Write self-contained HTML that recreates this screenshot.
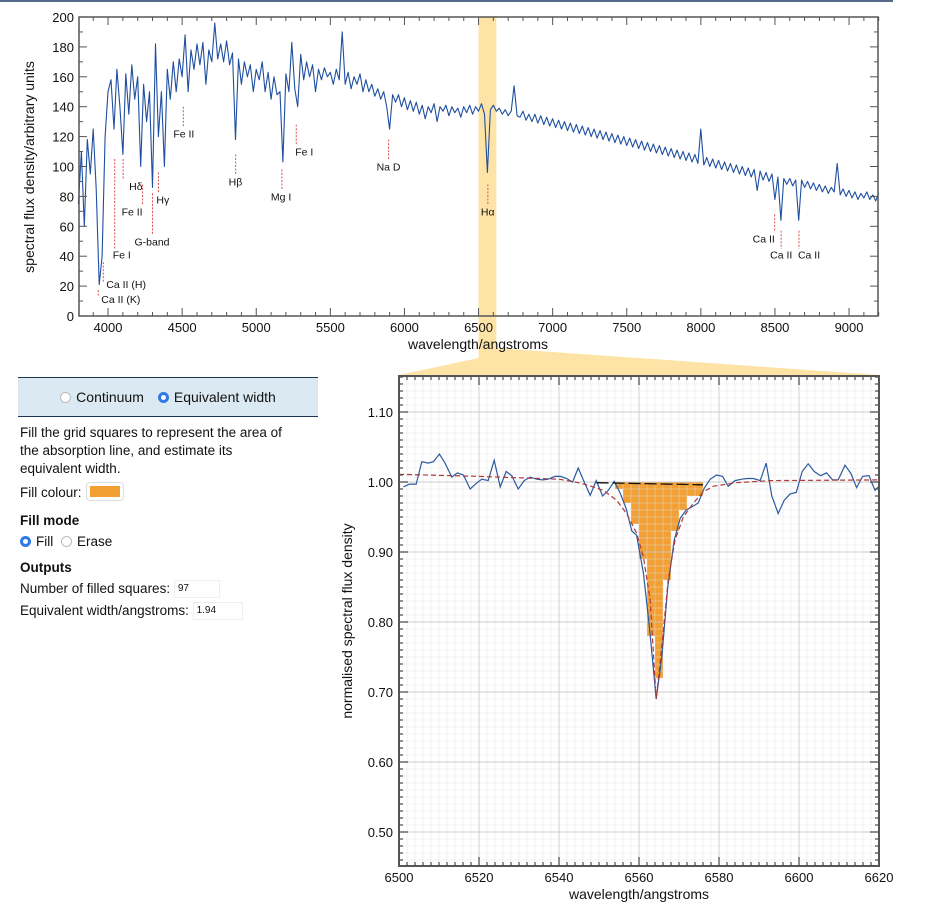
<!DOCTYPE html>
<html><head><meta charset="utf-8">
<style>
body{margin:0;background:#fff;font-family:"Liberation Sans",Arial,sans-serif;}
#wrap{position:relative;width:950px;height:911px;overflow:hidden;}
svg text{font-family:"Liberation Sans",Arial,sans-serif;}
#panel{position:absolute;left:18px;top:377px;width:300px;height:260px;font-size:13.5px;color:#111;}
.hdr{height:38px;background:#dbeaf2;border-top:1.5px solid #1d3554;border-bottom:1.5px solid #1d3554;display:flex;align-items:center;justify-content:center;font-size:14px;}
.radio{display:inline-block;width:11px;height:11px;border-radius:50%;border:1px solid #bbb;background:#fff;vertical-align:-1px;margin-right:5px;box-sizing:border-box;}
.radio.on{border:3.5px solid #2f7ae5;}
.p{position:absolute;left:2px;width:290px;margin:0;line-height:18px;white-space:nowrap;}
.box{display:inline-block;border:1px solid #eee;font-size:10px;line-height:12px;padding:2px 3px;vertical-align:middle;}
</style></head><body>
<div id="wrap">
<svg id="svg" width="950" height="911" style="position:absolute;left:0;top:0"></svg>
<div id="panel">
 <div class="hdr">
  <span style="margin-right:14px"><span class="radio"></span>Continuum</span>
  <span><span class="radio on"></span>Equivalent width</span>
 </div>
 <p class="p" style="top:47px">Fill the grid squares to represent the area of<br>the absorption line, and estimate its<br>equivalent width.</p>
 <p class="p" style="top:106px">Fill colour: <span style="display:inline-block;width:30px;height:11px;background:#f2a033;border:3px solid #fff;box-shadow:0 0 0 1px #ddd;border-radius:3px;vertical-align:-3px;margin-left:2px"></span></p>
 <p class="p" style="top:135px;font-weight:bold">Fill mode</p>
 <p class="p" style="top:156px"><span><span class="radio on"></span>Fill</span> <span style="margin-left:4px"><span class="radio"></span>Erase</span></p>
 <p class="p" style="top:182px;font-weight:bold">Outputs</p>
 <p class="p" style="top:203px">Number of filled squares: <span class="box" style="width:38px">97</span></p>
 <p class="p" style="top:225px">Equivalent width/angstroms: <span class="box" style="width:42px">1.94</span></p>
</div>
</div>
<script>
// ---------- TOP CHART DATA ----------
const topWlStart = 3800, topWlStep = 20;
const topFlux = [
75,110,60,118,95,125,85,21,40,120,
150,158,125,165,140,108,162,135,168,145,
160,100,155,130,150,86,182,120,150,100,
165,145,170,150,172,160,188,150,178,165,
182,168,183,155,178,170,196,172,182,170,
184,168,176,118,172,155,170,160,168,150,
165,158,170,150,163,145,160,148,150,103,
162,150,183,152,140,175,158,170,160,168,
150,165,158,166,160,163,155,165,158,190,
155,163,152,160,155,162,150,158,150,155,
147,152,145,150,140,125,148,143,148,140,
146,138,144,137,143,135,141,132,140,136,
142,130,140,137,141,134,140,136,139,133,
140,136,141,135,140,137,142,135,96,138,
141,137,139,135,138,
134,137,154,134,133,137,131,135,130,135,
129,134,128,133,127,132,126,131,125,130,
124,129,123,128,122,127,121,126,120,125,
119,124,118,123,117,122,116,121,115,120,
114,119,113,118,112,117,111,116,110,115,
109,114,108,113,107,112,106,111,105,110,
104,109,103,108,102,125,101,106,100,105,
99,104,98,103,97,102,96,101,95,100,
94,99,93,98,84,97,91,96,90,95,
78,93,64,92,88,92,87,91,64,91,
86,90,85,89,84,88,83,87,82,86,
83,102,81,85,80,84,79,83,78,82,
79,83,78,81,77,82];
const xTicksTop = [4000,4500,5000,5500,6000,6500,7000,7500,8000,8500,9000];
const yTicksTop = [0,20,40,60,80,100,120,140,160,180,200];
const lineNames = ["Ca II (K)","Ca II (H)","Fe I","Hδ","Fe II","G-band","Hγ","Fe II","Hβ","Mg I","Fe I","Na D","Hα","Ca II","Ca II","Ca II"];
const lineWl = [3934,3968,4045,4102,4233,4300,4340,4508,4861,5173,5270,5893,6563,8498,8542,8662];
const lineMarkTop = [17.4,36,105,105,88,82,96,140,108,98,128,118,88,68,57,57];
const lineMarkLen = [4.7,13.4,60,14,14,28,14,14,14,14,14,14,14,12,12,12];
const labelDy = [6,6,10,10,10,10,10,10,10,10,10,10,10,10,10,10];
// ---------- BOTTOM CHART DATA ----------
const obsWl = [6501.1,6502.6,6504.3,6505.7,6507.3,6508.6,6510.1,6511.5,6513.2,6514.6,6516.1,6517.8,6519.3,6520.7,6522.3,6523.8,6525.3,6526.8,6528.2,6529.8,6531.3,6532.8,6534.4,6535.9,6537.3,6539.0,6540.4,6541.9,6543.4,6544.8,6546.3,6547.8,6549.3,6550.9,6552.3,6553.8,6555.3,6556.8,6558.2,6559.4,6561.1,6562.6,6564.3,6565.7,6567.2,6568.8,6570.3,6571.8,6573.4,6574.8,6576.3,6577.8,6579.4,6580.9,6582.3,6584.0,6585.7,6587.1,6588.6,6590.3,6591.8,6593.2,6594.8,6596.3,6597.8,6599.3,6600.8,6602.3,6603.8,6605.4,6606.9,6608.4,6609.8,6611.5,6613.0,6614.4,6615.9,6617.5,6619.0,6619.8];
const obsFlux = [0.993,0.997,0.997,1.029,1.027,1.029,1.040,1.027,1.007,1.013,1.010,0.990,0.998,1.004,1.002,1.031,0.993,1.015,1.009,0.990,1.002,1.007,1.004,1.003,1.004,1.008,1.008,1.005,1.000,1.020,1.000,0.981,1.002,0.980,0.988,1.001,0.984,0.962,0.930,0.924,0.870,0.793,0.690,0.750,0.850,0.917,0.948,0.960,0.965,0.970,0.991,1.004,1.010,1.008,0.994,1.002,1.004,1.005,1.005,1.002,1.027,0.980,0.955,0.974,0.983,0.985,1.015,1.026,1.015,1.009,1.013,1.003,1.003,1.024,1.012,0.992,1.008,1.009,0.988,0.993];
const modelWl = [6500,6520,6540,6544,6546.9,6551.1,6554.4,6556.9,6559.4,6561.1,6562.8,6564.3,6565.7,6567.3,6569.0,6571.1,6573.6,6576.1,6578.6,6584.4,6592.8,6620];
const modelFlux = [1.011,1.008,1.004,1.000,0.996,0.988,0.974,0.955,0.927,0.893,0.831,0.690,0.765,0.860,0.917,0.950,0.970,0.986,0.994,0.999,1.002,1.003];
const contWl = [6549.4,6576];
const contFlux = [0.999,0.996];
const fillColStart = [6554,6556,6558,6560,6562,6564,6566,6568,6570,6572,6574];
const fillDepth = [1,3,6,11,22,28,14,7,4,2,2];
const xTicksBot = [6500,6520,6540,6560,6580,6600,6620];
const yTicksBot = [0.50,0.60,0.70,0.80,0.90,1.00,1.10];

const NS="http://www.w3.org/2000/svg";
const svg=document.getElementById('svg');
function mk(tag,attrs,parent){const e=document.createElementNS(NS,tag);for(const k in attrs)e.setAttribute(k,attrs[k]);(parent||svg).appendChild(e);return e;}

const tX=w=>79+(w-3804)*0.1482, tY=v=>316-v*1.495;
const bX=w=>399+(w-6500)*4, bY=v=>482-(v-1)*700;

let e=mk('line',{x1:0,y1:1,x2:893,y2:1,stroke:'#1d3a66','stroke-width':1.5});



e=mk('polygon',{points:`${tX(6500)},17 ${tX(6620)},17 ${tX(6620)},348 880,375 399,375 ${tX(6500)},358`,fill:'#fde4a6'});



// ---- top chart ----
const gT=mk('g',{});


let pts=topFlux.map((v,i)=>tX(topWlStart+i*topWlStep).toFixed(1)+','+tY(v).toFixed(1)).join(' ');
e=mk('polyline',{points:pts,fill:'none',stroke:'#1f4fa0','stroke-width':1.1,'stroke-linejoin':'round'},gT);


e=mk('rect',{x:79,y:17,width:799,height:299,fill:'none',stroke:'#555','stroke-width':1.5},gT);


for(let w=3900;w<=9200;w+=100){const x=tX(w),L=(w%500===0)?8:4;
 mk('line',{x1:x,y1:316,x2:x,y2:316-L,stroke:'#555'},gT);mk('line',{x1:x,y1:17,x2:x,y2:17+L,stroke:'#555'},gT);}
for(let v=0;v<=200;v+=10){const y=tY(v),L=(v%20===0)?8:4;
 mk('line',{x1:79,y1:y,x2:79+L,y2:y,stroke:'#555'},gT);mk('line',{x1:878,y1:y,x2:878-L,y2:y,stroke:'#555'},gT);}
xTicksTop.forEach(w=>{const t=mk('text',{x:tX(w),y:332,'font-size':13,'text-anchor':'middle',fill:'#111'},gT);t.textContent=w;
 });
yTicksTop.forEach(v=>{const t=mk('text',{x:74,y:tY(v)+5,'font-size':13,'text-anchor':'end',fill:'#111'},gT);t.textContent=v;
 });
e=mk('text',{x:478,y:349,'font-size':14,'text-anchor':'middle',fill:'#111'},gT);e.textContent='wavelength/angstroms';

e=mk('text',{x:0,y:0,'font-size':14,'text-anchor':'middle',fill:'#111',transform:'translate(34,167) rotate(-90)'},gT);e.textContent='spectral flux density/arbitrary units';

const labelDx=[3,3,-2,6,-21,-18,-2,-10,-7,-11,-1,-12,-7,-22,-11,-1];
lineNames.forEach((n,i)=>{const x=tX(lineWl[i]),y1=tY(lineMarkTop[i]),y2=y1+lineMarkLen[i]*1.495;
 const l=mk('line',{x1:x,y1:y1,x2:x,y2:y2,stroke:'#e05050','stroke-dasharray':'2,1.5'},gT);
 
 const t=mk('text',{x:x+labelDx[i],y:y2+labelDy[i],'font-size':10.5,fill:'#111'},gT);t.textContent=n;
 });

// ---- bottom chart ----
const gB=mk('g',{});


mk('rect',{x:399,y:376,width:480,height:490,fill:'#fff'},gB);
fillColStart.forEach((w,i)=>{for(let r=0;r<fillDepth[i];r++){
 const s=mk('rect',{x:bX(w),y:bY(1-r*0.01),width:8,height:7,fill:'#f2a033'},gB);
 }});
for(let w=6500;w<=6620;w+=2){const maj=(w%20===0);
 mk('line',{x1:bX(w),y1:376,x2:bX(w),y2:866,stroke:maj?'rgba(200,200,200,0.7)':'rgba(225,225,225,0.55)','stroke-width':maj?1.2:0.8},gB);}
for(let k=0;k<=70;k++){const v=1.15-k*0.01,y=bY(v);if(y>866)break;const maj=Math.abs(Math.round(v*100)%10)===0;
 mk('line',{x1:399,y1:y,x2:879,y2:y,stroke:maj?'rgba(200,200,200,0.7)':'rgba(225,225,225,0.55)','stroke-width':maj?1.2:0.8},gB);}
e=mk('polyline',{points:obsWl.map((w,i)=>bX(w).toFixed(1)+','+bY(obsFlux[i]).toFixed(1)).join(' '),fill:'none',stroke:'#2c5aa0','stroke-width':1.2},gB);

e=mk('polyline',{points:modelWl.map((w,i)=>bX(w).toFixed(1)+','+bY(modelFlux[i]).toFixed(1)).join(' '),fill:'none',stroke:'#b03838','stroke-width':1.2,'stroke-dasharray':'5,3'},gB);

e=mk('line',{x1:bX(contWl[0]),y1:bY(contFlux[0]),x2:bX(contWl[1]),y2:bY(contFlux[1]),stroke:'#111','stroke-width':1.3,'stroke-dasharray':'12,4'},gB);

e=mk('rect',{x:399,y:376,width:480,height:490,fill:'none',stroke:'#555','stroke-width':2},gB);

for(let w=6500;w<=6620;w+=2){const L=(w%20===0)?9:4;
 mk('line',{x1:bX(w),y1:866,x2:bX(w),y2:866-L,stroke:'#555','stroke-width':1.3},gB);mk('line',{x1:bX(w),y1:376,x2:bX(w),y2:376+L,stroke:'#555','stroke-width':1.3},gB);}
for(let k=0;k<=70;k++){const v=1.15-k*0.01,y=bY(v);if(y>866)break;const L=(Math.abs(Math.round(v*100)%10)===0)?9:4;
 mk('line',{x1:399,y1:y,x2:399+L,y2:y,stroke:'#555','stroke-width':1.3},gB);mk('line',{x1:879,y1:y,x2:879-L,y2:y,stroke:'#555','stroke-width':1.3},gB);}
xTicksBot.forEach(w=>{const t=mk('text',{x:bX(w),y:882,'font-size':13,'text-anchor':'middle',fill:'#111'},gB);t.textContent=w;
 });
yTicksBot.forEach(v=>{const t=mk('text',{x:393,y:bY(v)+5,'font-size':13,'text-anchor':'end',fill:'#111'},gB);t.textContent=v.toFixed(2);
 });
e=mk('text',{x:639,y:899,'font-size':14,'text-anchor':'middle',fill:'#111'},gB);e.textContent='wavelength/angstroms';

e=mk('text',{x:0,y:0,'font-size':14,'text-anchor':'middle',fill:'#111',transform:'translate(352,621) rotate(-90)'},gB);e.textContent='normalised spectral flux density';

</script>
</body></html>
